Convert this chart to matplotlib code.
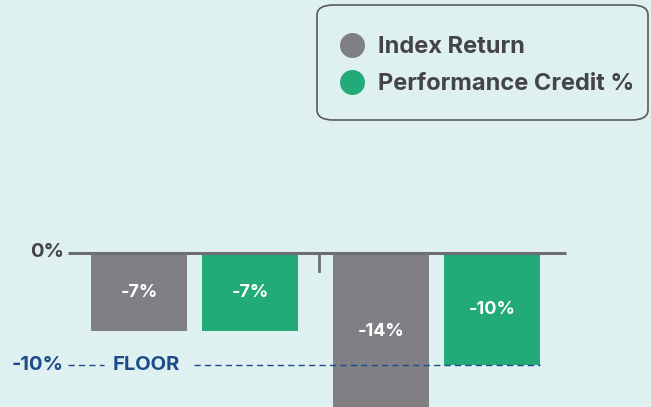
import numpy as np
import matplotlib
matplotlib.use("Agg")
import matplotlib.pyplot as plt
from matplotlib.lines import Line2D
from matplotlib.patches import FancyBboxPatch

# data
groups = ['Year 1', 'Year 2']
series = ['Index Return', 'Performance Credit %']
index_return = [-7, -14]
perf_credit = [-7, -10]
floor_value = -10

bg = '#dff0f1'
gray = '#808084'
green = '#22aa78'
navy = '#1b4b8a'
dark = '#444446'

plt.rcParams['font.family'] = ['Inter', 'DejaVu Sans']

fig = plt.figure(figsize=(6.51, 4.07), dpi=100, facecolor=bg)
ax = fig.add_axes([0, 0, 1, 1])
ax.set_facecolor(bg)
ax.set_xlim(-0.8037, 1.8864)
ax.set_ylim(-13.75, 22.59)
ax.axis('off')

x = np.arange(len(groups))
off = 0.229
w = 0.397
b1 = ax.bar(x - off, index_return, w, color=gray, zorder=2)
b2 = ax.bar(x + off, perf_credit, w, color=green, zorder=2)

for bars, vals in [(b1, index_return), (b2, perf_credit)]:
    for r, v in zip(bars, vals):
        ax.text(r.get_x() + r.get_width() / 2, v / 2, f'{v}%', ha='center', va='center',
                color='white', fontsize=13, fontweight='bold', zorder=4)

# zero line and tick between groups
ax.plot([-0.523, 1.535], [0, 0], color='#6d6e71', lw=2.2, zorder=3, solid_capstyle='butt')
ax.plot([0.514, 0.514], [0, -1.6], color='#6d6e71', lw=2, zorder=3)
ax.text(-0.54, 0.1, '0%', ha='right', va='center', color=dark, fontsize=14.5, fontweight='bold')

# floor line
ax.plot([-0.523, -0.375], [floor_value] * 2, color=navy, lw=1, ls=(0, (4.5, 3)), zorder=3)
ax.plot([0.0, 1.428], [floor_value] * 2, color=navy, lw=1, ls=(0, (4.5, 3)), zorder=3)
ax.text(-0.54, floor_value, '-10%', ha='right', va='center', color=navy, fontsize=14.5, fontweight='bold')
ax.text(-0.337, floor_value, 'FLOOR', ha='left', va='center', color=navy, fontsize=14.5, fontweight='bold')

# legend
box = FancyBboxPatch((317 / 651, 1 - 120 / 407), 331 / 651, 115 / 407,
                     boxstyle='round,pad=0,rounding_size=0.025', transform=fig.transFigure,
                     facecolor=bg, edgecolor='#5a5a5c', lw=1.2)
fig.patches.append(box)
handles = [Line2D([], [], marker='o', ls='none', color=c, markersize=17) for c in (gray, green)]
leg = fig.legend(handles, series, loc='upper left', bbox_to_anchor=(340 / 651, 1 - 36 / 407),
                 frameon=False, fontsize=17, handletextpad=0.6, labelspacing=0.63,
                 borderpad=0, handlelength=1.0, borderaxespad=0)
for t in leg.get_texts():
    t.set_color(dark)
    t.set_fontweight('bold')

fig.savefig('out.png', dpi=100, facecolor=bg)
